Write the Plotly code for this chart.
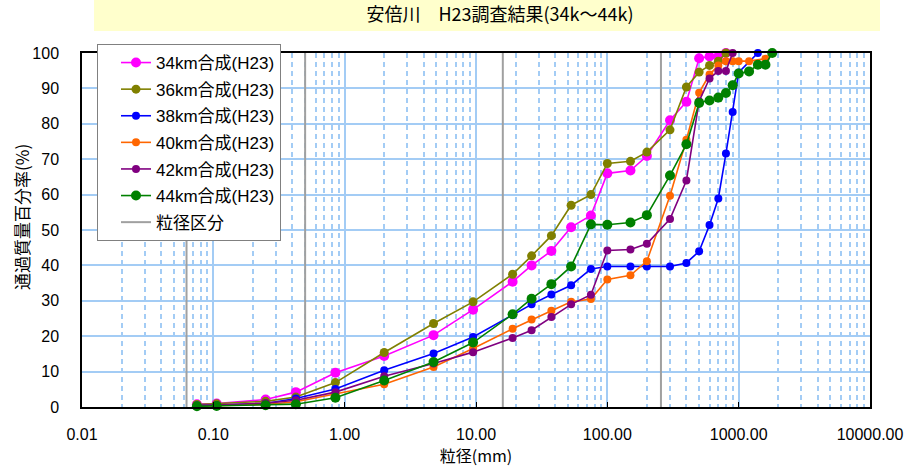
import plotly.graph_objects as go

# ---------------- data ----------------
sizes_34 = [0.075, 0.106, 0.25, 0.425, 0.85, 2, 4.75, 9.5, 19, 26.5, 37.5, 53, 75, 100, 150, 200, 300, 400, 500, 600, 700, 800]
pass_34 = [0.8, 1.0, 2.1, 4.2, 9.7, 14.4, 20.3, 27.5, 35.4, 40.0, 44.1, 50.8, 54.1, 66.0, 66.8, 70.9, 81.0, 86.2, 98.5, 99.0, 99.1, 100]

sizes_36 = [0.075, 0.106, 0.25, 0.425, 0.85, 2, 4.75, 9.5, 19, 26.5, 37.5, 53, 75, 100, 150, 200, 300, 400, 500, 600, 700, 800]
pass_36 = [0.7, 0.9, 1.6, 2.8, 6.9, 15.4, 23.6, 29.7, 37.5, 42.7, 48.4, 57.0, 60.0, 68.8, 69.4, 72.0, 78.3, 90.4, 94.6, 96.5, 97.7, 100]

sizes_38 = [0.075, 0.106, 0.25, 0.425, 0.85, 2, 4.75, 9.5, 19, 26.5, 37.5, 53, 75, 100, 150, 200, 300, 400, 500, 600, 700, 800, 900, 1000, 1400]
pass_38 = [0.4, 0.5, 1.0, 2.4, 5.1, 10.4, 15.1, 19.8, 26.0, 29.0, 31.8, 34.4, 39.0, 39.7, 39.7, 39.7, 39.7, 40.7, 44.0, 51.4, 58.9, 71.6, 83.3, 94.5, 100]

sizes_40 = [0.075, 0.106, 0.25, 0.425, 0.85, 2, 4.75, 9.5, 19, 26.5, 37.5, 53, 75, 100, 150, 200, 300, 400, 500, 600, 700, 800, 900, 1000, 1200, 1600]
pass_40 = [0.3, 0.4, 0.7, 1.5, 3.6, 6.4, 11.3, 16.5, 22.1, 24.7, 27.2, 29.7, 30.5, 36.0, 37.2, 41.2, 59.7, 75.5, 88.8, 93.9, 96.5, 97.7, 97.7, 97.7, 97.7, 98.4]

sizes_42 = [0.075, 0.106, 0.25, 0.425, 0.85, 2, 4.75, 9.5, 19, 26.5, 37.5, 53, 75, 100, 150, 200, 300, 400, 500, 600, 700, 800, 900]
pass_42 = [0.4, 0.6, 1.1, 1.9, 4.2, 8.7, 12.3, 15.5, 19.5, 21.7, 25.4, 29.0, 31.7, 44.2, 44.5, 46.1, 53.1, 64.0, 86.4, 92.8, 94.9, 94.9, 100]

sizes_44 = [0.075, 0.106, 0.25, 0.425, 0.85, 2, 4.75, 9.5, 19, 26.5, 37.5, 53, 75, 100, 150, 200, 300, 400, 500, 600, 700, 800, 900, 1000, 1200, 1400, 1600, 1800]
pass_44 = [0.2, 0.3, 0.5, 0.8, 2.6, 7.5, 12.7, 18.2, 26.2, 30.6, 34.7, 39.7, 51.6, 51.5, 52.1, 54.2, 65.4, 74.2, 85.9, 86.6, 87.4, 88.7, 90.9, 94.2, 94.8, 96.7, 96.7, 100]

series_names = ["34km合成(H23)", "36km合成(H23)", "38km合成(H23)", "40km合成(H23)", "42km合成(H23)", "44km合成(H23)"]
series_sizes = [sizes_34, sizes_36, sizes_38, sizes_40, sizes_42, sizes_44]
series_pass = [pass_34, pass_36, pass_38, pass_40, pass_42, pass_44]

class_boundaries = [0.0625, 0.5, 16, 256]   # 粒径区分
class_name = "粒径区分"

x_tickvals = [0.01, 0.1, 1, 10, 100, 1000, 10000]
x_ticktext = ["0.01", "0.10", "1.00", "10.00", "100.00", "1000.00", "10000.00"]

title_text = "安倍川　H23調査結果(34k～44k)"
x_title = "粒径(mm)"
y_title = "通過質量百分率(%)"

# ---------------- style ----------------
colors = ["#FF00FF", "#808000", "#0000FF", "#FF6600", "#800080", "#008000"]
msizes = [10, 9, 8, 8, 8, 10]
GRID = "#A3CCF5"
CJK = "Noto Sans CJK JP"
LAT = "Liberation Sans, Arial, Noto Sans CJK JP"

fig = go.Figure()

bx, by = [], []
for b in class_boundaries:
    bx += [b, b, None]
    by += [0, 100, None]
fig.add_trace(go.Scatter(
    x=bx, y=by, name=class_name, mode="lines",
    line=dict(color="#A0A0A0", width=2),
    legendgroup=class_name, legendrank=10, hoverinfo="skip",
))

for i, (nm, xs, ys) in enumerate(zip(series_names, series_sizes, series_pass)):
    fig.add_trace(go.Scatter(
        x=xs, y=ys, name=nm, mode="lines+markers",
        line=dict(color=colors[i], width=1.6),
        marker=dict(color=colors[i], size=msizes[i]),
        cliponaxis=False, legendgroup=nm, legendrank=i + 1,
    ))

L, R, T, B = 82, 34, 53, 67
W, H = 904, 474
pw, ph = W - L - R, H - T - B

def px_x(p):
    return (p - L) / pw

def px_y(p):
    return (H - B - p) / ph

fig.add_shape(type="rect", xref="paper", yref="paper",
              x0=px_x(94), x1=px_x(880), y0=px_y(31), y1=px_y(0),
              fillcolor="#FFFFCC", line=dict(width=0), layer="below")

fig.add_annotation(text=y_title, xref="paper", yref="paper",
                   x=px_x(22), y=px_y(217), textangle=-90, showarrow=False,
                   font=dict(family=CJK, size=17, color="#000000"),
                   xanchor="center", yanchor="middle")

fig.update_layout(
    width=W, height=H, autosize=False,
    margin=dict(l=L, r=R, t=T, b=B, autoexpand=False),
    paper_bgcolor="white", plot_bgcolor="white",
    title=dict(text=title_text, x=500 / W, xanchor="center", y=1 - 15 / H, yanchor="middle",
               font=dict(family=CJK, size=18, color="#000000")),
    legend=dict(x=px_x(97), y=px_y(44), xanchor="left", yanchor="top",
                bgcolor="white", bordercolor="#808080", borderwidth=1,
                font=dict(family=LAT, size=17, color="#000000"),
                tracegroupgap=1.5, indentation=18, traceorder="grouped",
                entrywidth=140, entrywidthmode="pixels"),
    xaxis=dict(type="log", range=[-2, 4], tickmode="array", automargin=False,
               tickvals=x_tickvals, ticktext=x_ticktext,
               tickfont=dict(family=LAT, size=16, color="#000000"),
               showgrid=True, gridcolor=GRID, gridwidth=1.5,
               minor=dict(dtick="D1", showgrid=True, gridcolor=GRID, gridwidth=2,
                          griddash="5px,4px", ticks=""),
               showline=True, linecolor="#000000", linewidth=2, mirror=True,
               ticks="inside", ticklen=5, tickcolor="#000000", tickwidth=1,
               ticklabelstandoff=12, zeroline=False,
               title=dict(text=x_title, font=dict(family=CJK, size=16, color="#000000"), standoff=8)),
    yaxis=dict(range=[0, 100], dtick=10, tick0=0, automargin=False,
               tickfont=dict(family=LAT, size=16, color="#000000"),
               showgrid=True, gridcolor=GRID, gridwidth=1.5,
               showline=True, linecolor="#000000", linewidth=1.5, mirror=True,
               ticks="", ticklabelstandoff=18, zeroline=False),
)

fig.write_html("out.html", config={"displayModeBar": False},
               post_script="document.body.style.margin='0px';document.body.style.overflow='hidden';")
